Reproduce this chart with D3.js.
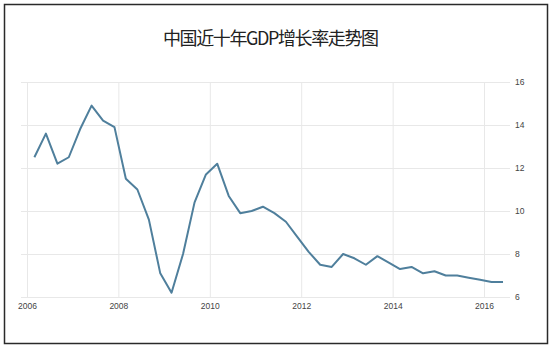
<!DOCTYPE html>
<html>
<head>
<meta charset="utf-8">
<script src="https://cdn.jsdelivr.net/npm/d3@7"></script>
<style>
  body { margin: 0; background: #fff; }
  svg { display: block; }
</style>
</head>
<body>
<div class="chart"></div>
<script>
	// data: quarterly GDP growth (year on year, %)
	var years = [2006, 2007, 2008, 2009, 2010, 2011, 2012, 2013, 2014, 2015, 2016];
	var quarterMonths = [2, 5, 8, 11];
	var growth = [
		12.5, 13.6, 12.2, 12.5,
		13.8, 14.9, 14.2, 13.9,
		11.5, 11.0, 9.6, 7.1,
		6.2, 8.0, 10.4, 11.7,
		12.2, 10.7, 9.9, 10.0,
		10.2, 9.9, 9.5, 8.8,
		8.1, 7.5, 7.4, 8.0,
		7.8, 7.5, 7.9, 7.6,
		7.3, 7.4, 7.1, 7.2,
		7.0, 7.0, 6.9, 6.8,
		6.7, 6.7
	];
	var xTickYears = [2006, 2008, 2010, 2012, 2014, 2016];
	var yTicks = [6, 8, 10, 12, 14, 16];
	var title = "中国近十年GDP增长率走势图";

	// build points
	var data = growth.map(function(v, i) {
		var yr = years[Math.floor(i / 4)];
		return { date: new Date(yr, quarterMonths[i % 4], 1), value: v };
	});

	var width = 556, height = 352;
	var plot = { left: 21, right: 510, top: 82, bottom: 297 };

	var svg = d3.select(".chart")
		.append("svg")
			.attr("width", width)
			.attr("height", height);

	// frame
	svg.append("rect")
		.attr("x", 4.5)
		.attr("y", 4.5)
		.attr("width", 543)
		.attr("height", 339)
		.attr("fill", "#fff")
		.attr("stroke", "#2a2a2a")
		.attr("stroke-width", 1.5);

	// title
	svg.append("text")
		.attr("x", 271)
		.attr("y", 45)
		.attr("text-anchor", "middle")
		.attr("font-family", "'Noto Sans CJK SC', sans-serif")
		.attr("font-size", "18px")
		.attr("fill", "#222")
		.attr("textLength", 216)
		.text(title);

	// scales
	var x = d3.scaleTime()
		.domain([new Date(2006, 0, 1), new Date(2016, 0, 1)])
		.range([27, 484]);
	var y = d3.scaleLinear()
		.domain([6, 16])
		.range([plot.bottom, plot.top]);

	// x axis + vertical grid
	var xAxis = d3.axisBottom(x)
		.tickValues(xTickYears.map(function(yr) { return new Date(yr, 0, 1); }))
		.tickFormat(d3.timeFormat("%Y"))
		.tickSize(-(plot.bottom - plot.top))
		.tickPadding(6);
	var xAx = svg.append("g")
		.attr("class", "x axis")
		.attr("transform", "translate(0," + plot.bottom + ")")
		.call(xAxis);

	// y axis + horizontal grid
	var yAxis = d3.axisRight(y)
		.tickValues(yTicks)
		.tickSize(-(plot.right - plot.left))
		.tickPadding(5);
	var yAx = svg.append("g")
		.attr("class", "y axis")
		.attr("transform", "translate(" + plot.right + ",0)")
		.call(yAxis);

	[xAx, yAx].forEach(function(ax) {
		ax.select(".domain").remove();
		ax.selectAll("line")
			.attr("stroke", "#e8e8e8")
			.attr("stroke-width", 1);
		ax.selectAll("text")
			.attr("fill", "#444")
			.attr("font-family", "'Liberation Sans', Arial, sans-serif")
			.attr("font-size", "8.5px");
	});

	// line
	var line = d3.line()
		.x(function(d) { return x(d.date); })
		.y(function(d) { return y(d.value); });

	svg.append("path")
		.datum(data)
		.attr("fill", "none")
		.attr("stroke", "#4f7f9c")
		.attr("stroke-width", 2)
		.attr("stroke-linejoin", "round")
		.attr("d", line);
</script>
</body>
</html>
